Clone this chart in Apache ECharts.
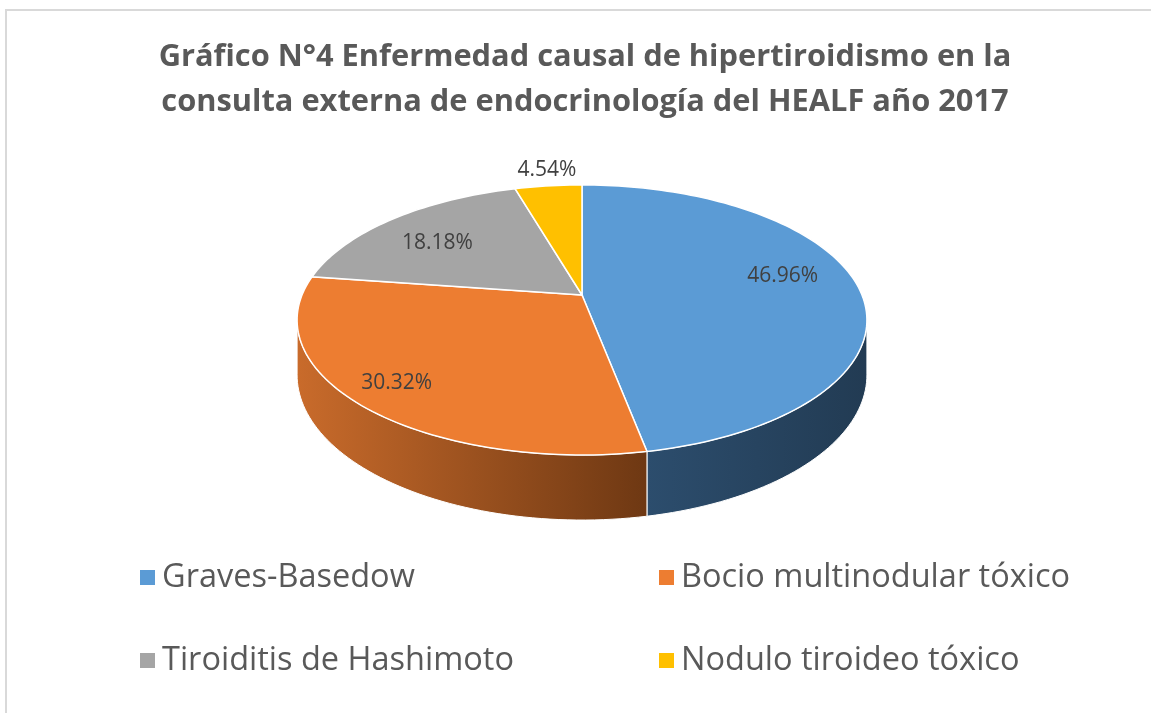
<!DOCTYPE html>
<html>
<head>
<meta charset="utf-8">
<script src="https://cdn.jsdelivr.net/npm/echarts@6/dist/echarts.min.js"></script>
<style>
  html, body { margin: 0; padding: 0; background: #fff; }
  #chart { width: 1151px; height: 713px; }
</style>
</head>
<body>
<div id="chart"></div>
<script>
const categories = ['Graves-Basedow', 'Bocio multinodular tóxico', 'Tiroiditis de Hashimoto', 'Nodulo tiroideo tóxico'];
const values = [46.96, 30.32, 18.18, 4.54];

const topColors = ['#5B9BD5', '#ED7D31', '#A5A5A5', '#FFC000'];
const sideColors = [['#2C4D6D', '#223B53'], ['#C96B2B', '#6E3813'], ['#7F7F7F', '#5A5A5A'], ['#C99700', '#8F6B00']];
// small label shifts to follow Excel's "best fit" placement
const labelNudge = [[8, -10], [-36, 15], [-8, 3], [2, -5]];

// 3D pie projection: centre, horizontal / vertical scale, perspective, wall height
const CX = 582, CY = 295, SX = 280, SY = 130.4, PERSP = 0.185, WALL = 53;
const total = values.reduce((a, b) => a + b, 0);

// angle in degrees clockwise from the back, f = radial fraction
function project(deg, f, down) {
  const r = deg * Math.PI / 180;
  const X = f * Math.sin(r), Z = f * Math.cos(r);
  const w = 1 + PERSP * Z;
  return [CX + SX * X / w, CY - SY * Z / w + (down ? WALL / w : 0)];
}

function arc(a0, a1, down) {
  const pts = [];
  const n = Math.max(2, Math.ceil(Math.abs(a1 - a0) / 1.5));
  for (let i = 0; i <= n; i++) pts.push(project(a0 + (a1 - a0) * i / n, 1, down));
  return pts;
}

// where the rim turns from back to front
const EDGE = Math.acos(-PERSP) * 180 / Math.PI;

function renderSlice(params, api) {
  const idx = params.seriesIndex;
  let start = 0;
  for (let i = 0; i < idx; i++) start += values[i];
  const v = api.value(0);
  const a0 = start / total * 360;
  const a1 = (start + v) / total * 360;
  const children = [];

  // visible front wall
  const s0 = Math.max(a0, EDGE), s1 = Math.min(a1, 360 - EDGE);
  if (s1 > s0) {
    children.push({
      type: 'polygon',
      z2: 1,
      shape: { points: arc(s0, s1, false).concat(arc(s1, s0, true)) },
      style: {
        fill: new echarts.graphic.LinearGradient(0, 0, 1, 0, [
          { offset: 0, color: sideColors[idx][0] },
          { offset: 1, color: sideColors[idx][1] }
        ]),
        stroke: '#fff',
        lineWidth: 1
      }
    });
  }

  // top face
  children.push({
    type: 'polygon',
    z2: 5,
    shape: { points: [project(0, 0, false)].concat(arc(a0, a1, false)) },
    style: { fill: topColors[idx], stroke: '#fff', lineWidth: 1.5 }
  });

  // data label
  const mid = (a0 + a1) / 2;
  const f = v / total < 0.06 ? 1.12 : 0.7;
  const p = project(mid, f, false);
  children.push({
    type: 'text',
    z2: 10,
    x: p[0] + labelNudge[idx][0],
    y: p[1] + labelNudge[idx][1],
    style: {
      text: v.toFixed(2) + '%',
      fill: '#404040',
      fontSize: 21,
      fontFamily: 'Open Sans',
      align: 'center',
      verticalAlign: 'middle'
    }
  });

  return { type: 'group', children };
}

const chart = echarts.init(document.getElementById('chart'));

const legendText = { fontSize: 32.5, color: '#595959', fontFamily: 'Open Sans', lineHeight: 30, padding: [0, 0, 0, 2] };

chart.setOption({
  backgroundColor: '#fff',
  animation: false,
  title: {
    text: 'Gráfico N°4 Enfermedad causal de hipertiroidismo en la\nconsulta externa de endocrinología del HEALF año 2017',
    left: 580,
    top: 30,
    textAlign: 'center',
    textStyle: { fontSize: 30.8, fontWeight: 'bold', color: '#595959', fontFamily: 'Open Sans', lineHeight: 45 }
  },
  graphic: [{
    type: 'rect',
    shape: { x: 6, y: 10, width: 1170, height: 730 },
    style: { fill: 'none', stroke: '#D9D9D9', lineWidth: 2 },
    silent: true
  }],
  legend: [
    {
      data: [categories[0], categories[2]],
      orient: 'vertical',
      left: 135,
      top: 556,
      icon: 'rect',
      itemWidth: 15,
      itemHeight: 15,
      itemGap: 50,
      textStyle: legendText
    },
    {
      data: [categories[1], categories[3]],
      orient: 'vertical',
      left: 654,
      top: 556,
      icon: 'rect',
      itemWidth: 15,
      itemHeight: 15,
      itemGap: 50,
      textStyle: legendText
    }
  ],
  series: categories.map((name, i) => ({
    type: 'custom',
    name: name,
    coordinateSystem: 'none',
    data: [[values[i]]],
    itemStyle: { color: topColors[i] },
    renderItem: renderSlice
  }))
});

window.addEventListener('resize', () => chart.resize());
</script>
</body>
</html>
